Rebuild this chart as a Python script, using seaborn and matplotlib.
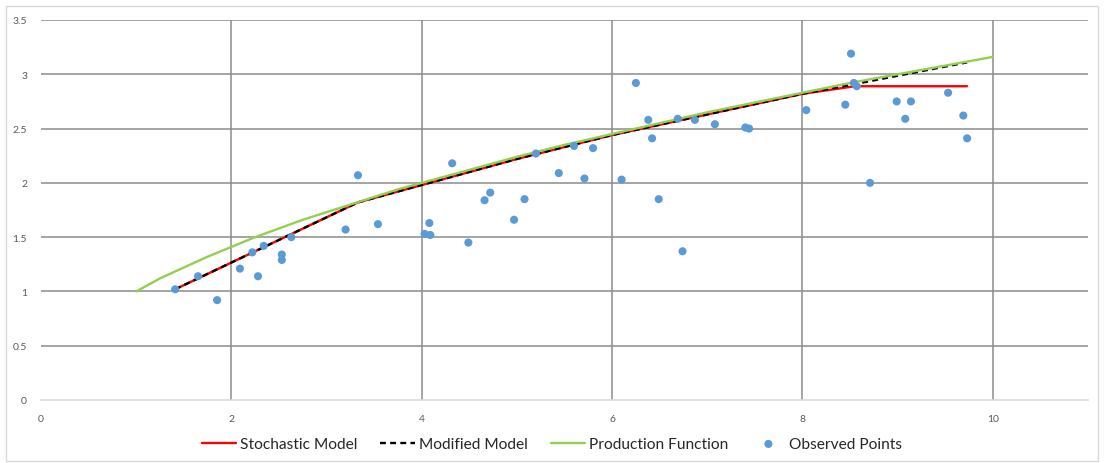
import numpy as np
import pandas as pd
import matplotlib
matplotlib.use('Agg')
import matplotlib.pyplot as plt
import seaborn as sns

# ── Data ───────────────────────────────────────────────────────────────────

obs_x = [1.41, 1.65, 1.85, 2.09, 2.22, 2.28, 2.34, 2.53, 2.53, 2.63,
         3.20, 3.33, 3.54, 4.03, 4.09, 4.08, 4.32, 4.49, 4.66, 4.72,
         4.97, 5.08, 5.20, 5.44, 5.60, 5.71, 5.80, 6.10, 6.25, 6.38,
         6.42, 6.49, 6.69, 6.74, 6.87, 7.08, 7.40, 7.44, 8.04, 8.45,
         8.51, 8.54, 8.57, 8.71, 8.99, 9.08, 9.14, 9.53, 9.69, 9.73]
obs_y = [1.02, 1.14, 0.92, 1.21, 1.36, 1.14, 1.42, 1.34, 1.29, 1.50,
         1.57, 2.07, 1.62, 1.53, 1.52, 1.63, 2.18, 1.45, 1.84, 1.91,
         1.66, 1.85, 2.27, 2.09, 2.34, 2.04, 2.32, 2.03, 2.92, 2.58,
         2.41, 1.85, 2.59, 1.37, 2.58, 2.54, 2.51, 2.50, 2.67, 2.72,
         3.19, 2.92, 2.89, 2.00, 2.75, 2.59, 2.75, 2.83, 2.62, 2.41]

stoch_x = [1.41, 3.33, 4.0, 5.0, 6.0, 7.0, 8.0, 8.55, 9.73]
stoch_y = [1.02, 1.82, 1.98, 2.22, 2.44, 2.63, 2.82, 2.89, 2.89]

mod_x = [1.41, 3.33, 4.0, 5.0, 6.0, 7.0, 8.0, 8.55, 9.73]
mod_y = [1.02, 1.82, 1.98, 2.22, 2.44, 2.63, 2.82, 2.91, 3.11]

prod_x = [1.0, 1.25, 1.5, 1.75, 2.0, 2.25, 2.5, 2.75, 3.0, 3.25,
          3.5, 3.75, 4.0, 4.5, 5.0, 5.5, 6.0, 6.5, 7.0, 7.5,
          8.0, 8.5, 9.0, 9.5, 10.0]
prod_y = [1.00, 1.12, 1.22, 1.32, 1.41, 1.50, 1.58, 1.66, 1.73, 1.80,
          1.87, 1.94, 2.00, 2.12, 2.24, 2.35, 2.45, 2.55, 2.65, 2.74,
          2.83, 2.92, 3.00, 3.08, 3.16]

x_ticks = [0, 2, 4, 6, 8, 10]
y_ticks = [0, 0.5, 1, 1.5, 2, 2.5, 3, 3.5]

# ── Plot ───────────────────────────────────────────────────────────────────

sns.set_style('white')
plt.rcParams['font.family'] = ['Lato', 'DejaVu Sans']

fig = plt.figure(figsize=(11.04, 4.64), dpi=100)
ax = fig.add_axes([41 / 1104, 63 / 464, 1047 / 1104, 380 / 464])

# light outer border like the Excel chart area
fig.patches.append(plt.Rectangle((6 / 1104, 2 / 464), 1092 / 1104, 455 / 464,
                                 transform=fig.transFigure, fill=False,
                                 edgecolor='#d9d9d9', linewidth=1))

sns.lineplot(x=stoch_x, y=stoch_y, color='#ff0000', linewidth=1.7,
             label='Stochastic Model', ax=ax, sort=False)
sns.lineplot(x=mod_x, y=mod_y, color='black', linewidth=1.7,
             linestyle=(0, (2.5, 1.8)), label='Modified Model', ax=ax, sort=False)
sns.lineplot(x=prod_x, y=prod_y, color='#92d050', linewidth=1.7,
             label='Production Function', ax=ax, sort=False)
sns.scatterplot(x=obs_x, y=obs_y, color='#5b9bd5', s=34, edgecolor='none',
                label='Observed Points', ax=ax, zorder=5)

ax.set_xlim(0, 11)
ax.set_ylim(0, 3.5)
ax.set_xticks(x_ticks)
ax.set_yticks(y_ticks)
ax.set_xticklabels([str(t) for t in x_ticks])
ax.set_yticklabels(['0', '0.5', '1', '1.5', '2', '2.5', '3', '3.5'])
ax.tick_params(length=0, labelsize=7.5, labelcolor='#595959')
ax.tick_params(axis='y', pad=10)
ax.tick_params(axis='x', pad=10)

ax.grid(True, color='#8c8c8c', linewidth=1.1)
ax.get_xgridlines()[0].set_visible(False)
ax.get_ygridlines()[0].set_visible(False)
for side in ['top', 'right', 'left']:
    ax.spines[side].set_visible(False)
ax.spines['bottom'].set_color('#d9d9d9')
ax.spines['bottom'].set_linewidth(1.2)

ax.legend(loc='center', bbox_to_anchor=(0.5, 19 / 464),
          bbox_transform=fig.transFigure, ncol=4, frameon=False,
          fontsize=11.2, handlelength=2.2, handletextpad=0.25,
          columnspacing=1.5, borderaxespad=0)

fig.savefig('out.png', dpi=100)
